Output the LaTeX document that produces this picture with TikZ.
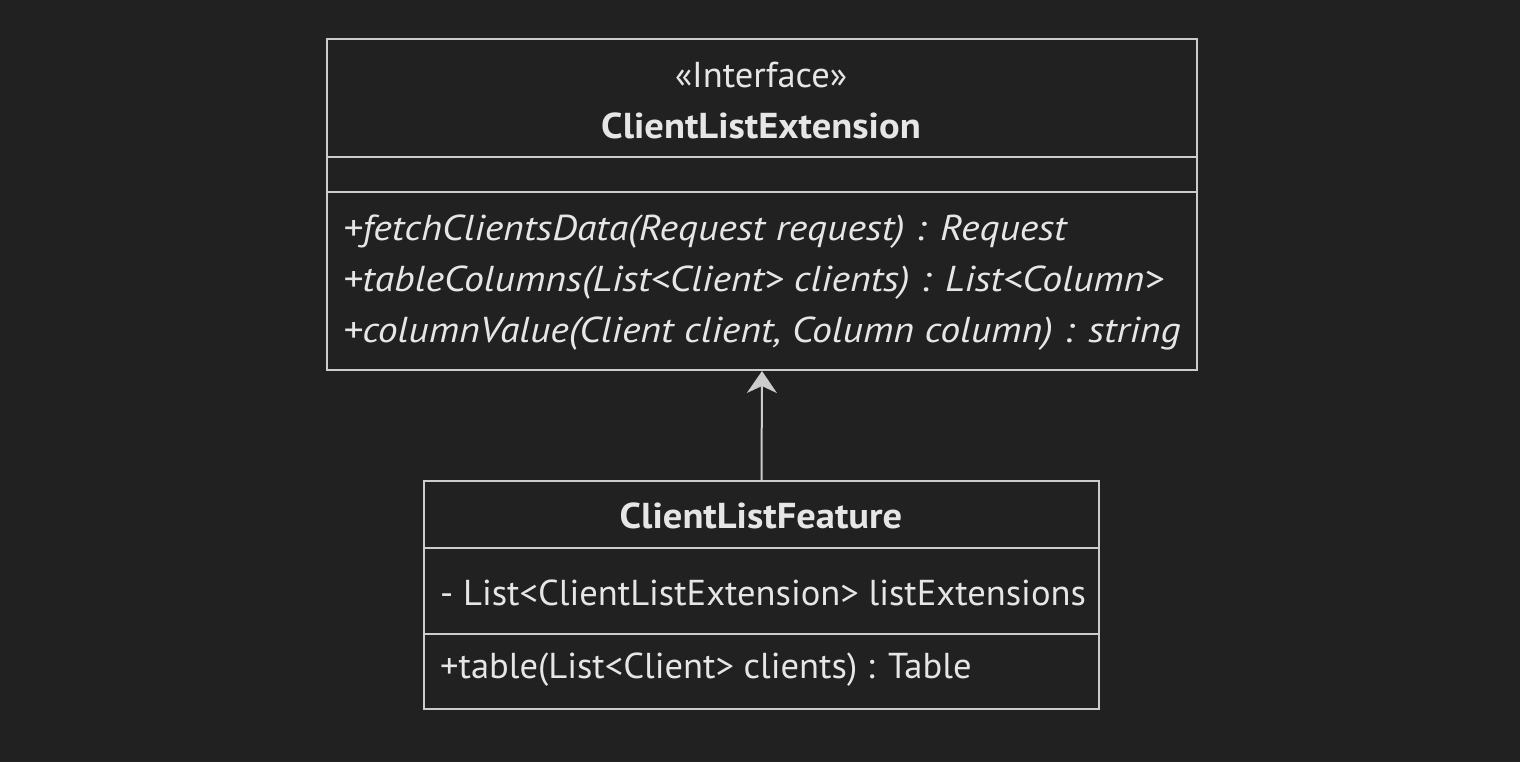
\documentclass[tikz,border=0pt]{standalone}
\usepackage{fontspec}
\setmainfont{PT Sans}[BoldFeatures={FakeStretch=1.07},ItalicFeatures={FakeStretch=1.105},UprightFeatures={FakeStretch=1.015}]
\usetikzlibrary{arrows.meta}
\definecolor{bg}{HTML}{212121}
\definecolor{ln}{HTML}{CCCCCC}
\definecolor{tx}{HTML}{E6E6E6}
\begin{document}
\begin{tikzpicture}[x=1pt,y=-1pt,
  box/.style={draw=ln,line width=2pt},
  div/.style={draw=ln,line width=2pt},
  lbl/.style={text=tx,inner sep=0pt,font=\fontsize{36}{42}\selectfont},
  lbll/.style={lbl,anchor=west},
  ital/.style={lbll,font=\fontsize{36}{42}\selectfont\itshape},
  bold/.style={lbl,font=\fontsize{36}{42}\selectfont\bfseries},
  conn/.style={draw=ln,line width=2pt,-{Stealth[length=22pt,width=30pt,inset=7pt]}}]
\fill[bg] (0,0) rectangle (1520,762);
\useasboundingbox (0,0) rectangle (1520,762);
% interface box
\node[box,minimum width=870pt,minimum height=331pt,anchor=north west,inner sep=0pt] (iface) at (326,38) {};
\draw[div] (326,157) -- (1196,157);
\draw[div] (326,192) -- (1196,192);
\node[lbl] (stereo) at (761,75) {«Interface»};
\node[bold] (iname) at (761,126) {ClientListExtension};
\node[ital] (m1) at (343,232) {+fetchClientsData(Request request) : Request};
\node[ital] (m2) at (343,283) {+tableColumns(List<Client> clients) : List<Column>};
\node[ital] (m3) at (343,334) {+columnValue(Client client, Column column) : string};
% feature box
\node[box,minimum width=675pt,minimum height=228pt,anchor=north west,inner sep=0pt] (feat) at (423,480) {};
\draw[div] (423,548) -- (1098,548);
\draw[div] (423,634) -- (1098,634);
\node[bold] (fname) at (761,516) {ClientListFeature};
\node[lbll] (a1) at (440,593) {- List<ClientListExtension> listExtensions};
\node[lbll] (f1) at (440,670) {+table(List<Client> clients) : Table};
% connector
\draw[conn] (feat.north) -- (iface.south);
\end{tikzpicture}
\end{document}
